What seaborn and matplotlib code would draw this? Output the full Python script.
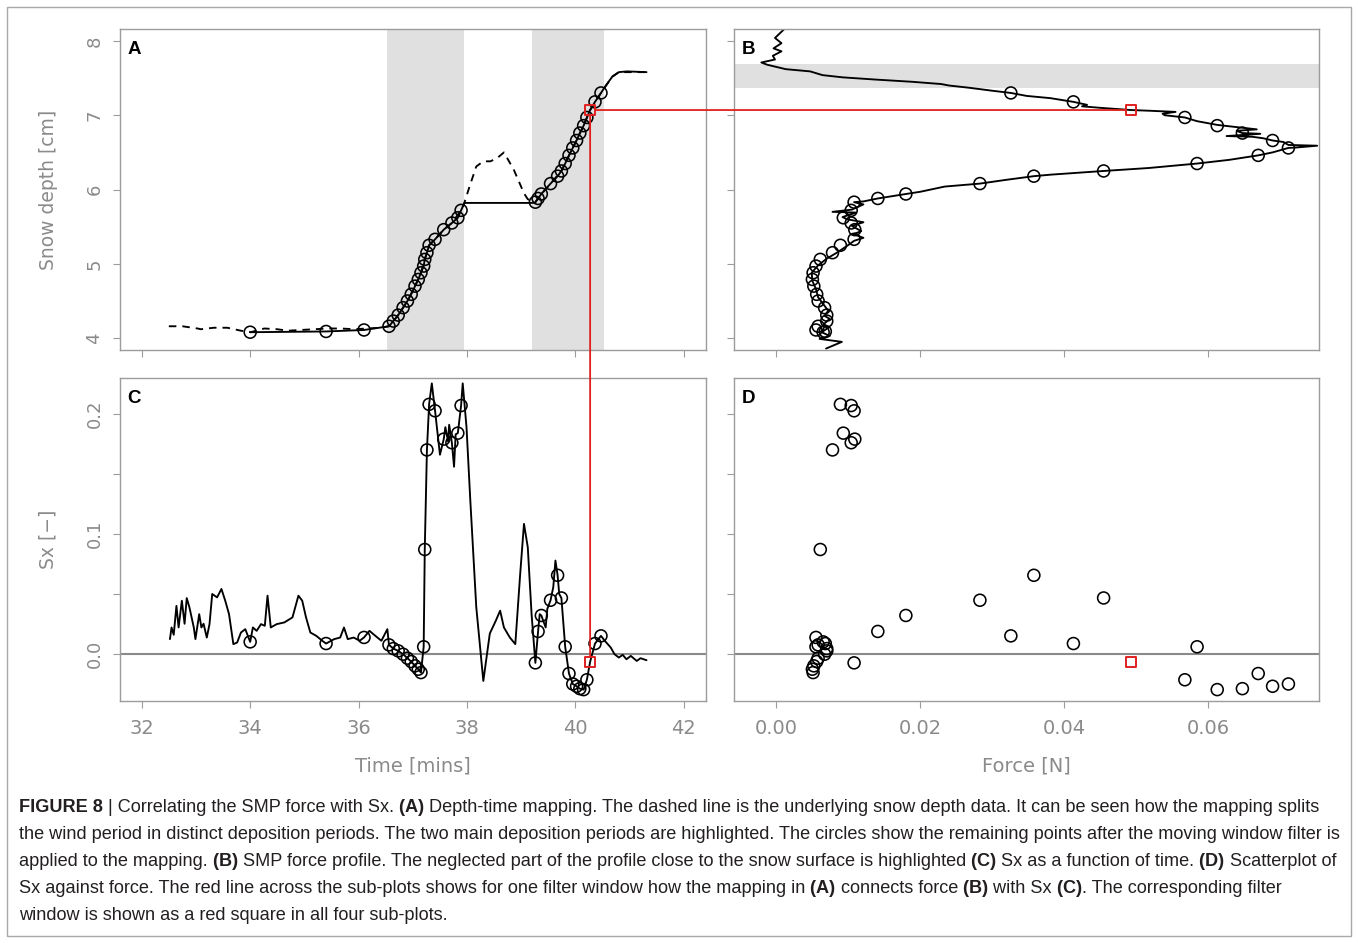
import matplotlib
matplotlib.use("Agg")
import matplotlib.pyplot as plt
import seaborn as sns
from matplotlib.patches import ConnectionPatch, Rectangle

# filter windows left after the moving window filter (one entry per window)
win_time = [34.00, 35.40, 36.10, 36.56, 36.64, 36.73, 36.82, 36.90, 36.97, 37.04,
            37.10, 37.15, 37.20, 37.22, 37.26, 37.30, 37.41, 37.57, 37.72, 37.83,
            37.89, 39.26, 39.31, 39.37, 39.54, 39.67, 39.74, 39.81, 39.88, 39.95,
            40.02, 40.08, 40.15, 40.21, 40.36, 40.47]
win_depth = [4.08, 4.09, 4.11, 4.16, 4.23, 4.31, 4.41, 4.50, 4.59, 4.70,
             4.79, 4.88, 4.97, 5.06, 5.15, 5.25, 5.33, 5.46, 5.55, 5.62,
             5.72, 5.83, 5.88, 5.94, 6.08, 6.18, 6.25, 6.35, 6.46, 6.56,
             6.66, 6.76, 6.86, 6.97, 7.18, 7.30]
win_force = [0.0065, 0.0068, 0.0055, 0.0058, 0.0070, 0.0070, 0.0067, 0.0058, 0.0056, 0.0052,
             0.0050, 0.0051, 0.0055, 0.0061, 0.0078, 0.0089, 0.0108, 0.0109, 0.0104, 0.0093,
             0.0104, 0.0108, 0.0141, 0.0180, 0.0283, 0.0358, 0.0455, 0.0585, 0.0670, 0.0712,
             0.0690, 0.0648, 0.0613, 0.0568, 0.0413, 0.0326]
win_sx = [0.0100, 0.0086, 0.0137, 0.0075, 0.0044, 0.0025, -0.0003, -0.0036, -0.0064, -0.0100,
          -0.0128, -0.0156, 0.0059, 0.0870, 0.1700, 0.2080, 0.2026, 0.1790, 0.1760, 0.1840,
          0.2070, -0.0075, 0.0187, 0.0320, 0.0447, 0.0655, 0.0466, 0.0059, -0.0164, -0.0251,
          -0.0270, -0.0290, -0.0298, -0.0216, 0.0086, 0.0150]

# the one highlighted window (red square)
sel_time, sel_depth, sel_force, sel_sx = 40.27, 7.07, 0.0493, -0.0066

# depth-time mapping (solid line in A)
map_time = [34.00, 35.40, 36.10, 36.56, 36.64, 36.73, 36.82, 36.90, 36.97, 37.04,
            37.10, 37.15, 37.20, 37.22, 37.26, 37.30, 37.41, 37.57, 37.72, 37.83,
            37.89, 37.95, 39.22, 39.26, 39.31, 39.37, 39.54, 39.67, 39.74, 39.81,
            39.88, 39.95, 40.02, 40.08, 40.15, 40.21, 40.27, 40.36, 40.47, 40.56,
            40.68, 40.80, 40.95, 41.31]
map_depth = [4.08, 4.09, 4.11, 4.16, 4.23, 4.31, 4.41, 4.50, 4.59, 4.70,
             4.79, 4.88, 4.97, 5.06, 5.15, 5.25, 5.33, 5.46, 5.55, 5.62,
             5.72, 5.82, 5.82, 5.83, 5.88, 5.94, 6.08, 6.18, 6.25, 6.35,
             6.46, 6.56, 6.66, 6.76, 6.86, 6.97, 7.07, 7.18, 7.30, 7.40,
             7.52, 7.58, 7.59, 7.58]

# underlying snow depth record (dashed line in A)
snow_time = [32.50, 32.75, 33.03, 33.09, 33.33, 33.58, 33.83, 34.01, 34.26, 34.50,
             34.69, 34.93, 35.18, 35.43, 35.67, 35.92, 36.16, 36.41, 36.56, 36.73,
             36.90, 37.04, 37.15, 37.22, 37.30, 37.41, 37.57, 37.72, 37.89, 37.95,
             38.05, 38.17, 38.30, 38.43, 38.55, 38.68, 38.86, 39.05, 39.12, 39.26,
             39.37, 39.54, 39.74, 39.95, 40.15, 40.27, 40.47, 40.68, 40.80, 41.31]
snow_depth = [4.16, 4.16, 4.13, 4.12, 4.14, 4.14, 4.10, 4.08, 4.13, 4.12,
              4.10, 4.11, 4.12, 4.13, 4.13, 4.12, 4.13, 4.14, 4.16, 4.31,
              4.50, 4.70, 4.88, 5.06, 5.25, 5.33, 5.46, 5.55, 5.72, 5.82,
              6.05, 6.31, 6.38, 6.38, 6.42, 6.50, 6.27, 5.95, 5.87, 5.83,
              5.94, 6.08, 6.25, 6.56, 6.86, 7.07, 7.30, 7.52, 7.58, 7.58]

# SMP force profile (B), surface to bottom
smp_depth = [8.17, 8.04, 7.97, 7.90, 7.86, 7.80, 7.75, 7.71, 7.68, 7.62,
             7.59, 7.54, 7.51, 7.48, 7.45, 7.42, 7.40, 7.37, 7.33, 7.30,
             7.26, 7.23, 7.18, 7.14, 7.12, 7.10, 7.07, 7.06, 7.045, 7.02,
             7.00, 6.97, 6.92, 6.87, 6.85, 6.81, 6.79, 6.76, 6.75, 6.72,
             6.71, 6.69, 6.66, 6.64, 6.60, 6.59, 6.565, 6.56, 6.50, 6.46,
             6.40, 6.35, 6.29, 6.25, 6.20, 6.18, 6.13, 6.08, 6.04, 5.97,
             5.94, 5.88, 5.84, 5.83, 5.80, 5.73, 5.70, 5.69, 5.63, 5.60,
             5.56, 5.51, 5.44, 5.40, 5.35, 5.31, 5.24, 5.15, 5.07, 4.98,
             4.88, 4.77, 4.66, 4.55, 4.46, 4.37, 4.30, 4.26, 4.19, 4.14,
             4.08, 4.03, 3.99, 3.95, 3.86]
smp_force = [0.0012, -0.0002, 0.0007, -0.0004, 0.0007, -0.0005, -0.0002, -0.0021, -0.0013, 0.0013,
             0.0047, 0.0064, 0.0092, 0.0138, 0.0189, 0.0229, 0.0240, 0.0268, 0.0300, 0.0326,
             0.0348, 0.0381, 0.0413, 0.0432, 0.0425, 0.0450, 0.0493, 0.0520, 0.0555, 0.0537,
             0.0540, 0.0568, 0.0585, 0.0613, 0.0631, 0.0668, 0.0640, 0.0648, 0.0673, 0.0626,
             0.0662, 0.0677, 0.0690, 0.0705, 0.0712, 0.0752, 0.0722, 0.0712, 0.0690, 0.0670,
             0.0630, 0.0585, 0.0518, 0.0455, 0.0381, 0.0358, 0.0319, 0.0283, 0.0234, 0.0200,
             0.0180, 0.0141, 0.0121, 0.0108, 0.0121, 0.0105, 0.0078, 0.0111, 0.0092, 0.0098,
             0.0121, 0.0105, 0.0118, 0.0107, 0.0121, 0.0108, 0.0098, 0.0084, 0.0070, 0.0058,
             0.0049, 0.0050, 0.0055, 0.0058, 0.0065, 0.0072, 0.0067, 0.0074, 0.0066, 0.0072,
             0.0063, 0.0074, 0.0060, 0.0091, 0.0069]

# Sx time series (C)
sx_time = [32.52, 32.55, 32.59, 32.64, 32.68, 32.74, 32.79, 32.83, 32.88, 32.96,
           32.99, 33.06, 33.10, 33.14, 33.20, 33.25, 33.30, 33.39, 33.47, 33.54,
           33.61, 33.69, 33.76, 33.83, 33.91, 34.00, 34.05, 34.12, 34.20, 34.27,
           34.32, 34.38, 34.49, 34.63, 34.78, 34.89, 34.96, 35.03, 35.11, 35.22,
           35.33, 35.40, 35.55, 35.66, 35.73, 35.80, 35.91, 36.02, 36.10, 36.20,
           36.31, 36.42, 36.53, 36.56, 36.64, 36.73, 36.82, 36.90, 36.97, 37.04,
           37.10, 37.15, 37.20, 37.22, 37.26, 37.30, 37.35, 37.41, 37.50, 37.57,
           37.60, 37.65, 37.67, 37.72, 37.76, 37.79, 37.83, 37.89, 37.92, 37.99,
           38.06, 38.17, 38.30, 38.42, 38.53, 38.61, 38.68, 38.79, 38.89, 38.98,
           39.05, 39.12, 39.19, 39.26, 39.31, 39.34, 39.37, 39.45, 39.48, 39.54,
           39.59, 39.63, 39.67, 39.70, 39.74, 39.81, 39.88, 39.95, 40.02, 40.08,
           40.15, 40.21, 40.27, 40.36, 40.47, 40.54, 40.65, 40.72, 40.80, 40.87,
           40.94, 41.02, 41.13, 41.20, 41.31]
sx_value = [0.0123, 0.0220, 0.0159, 0.0400, 0.0220, 0.0443, 0.0251, 0.0465, 0.0387, 0.0220,
            0.0123, 0.0331, 0.0220, 0.0251, 0.0136, 0.0248, 0.0499, 0.0471, 0.0541, 0.0443,
            0.0331, 0.0081, 0.0095, 0.0178, 0.0206, 0.0100, 0.0220, 0.0192, 0.0248, 0.0234,
            0.0485, 0.0220, 0.0248, 0.0262, 0.0304, 0.0485, 0.0443, 0.0304, 0.0178, 0.0150,
            0.0109, 0.0086, 0.0123, 0.0136, 0.0220, 0.0123, 0.0136, 0.0109, 0.0137, 0.0192,
            0.0150, 0.0109, 0.0206, 0.0075, 0.0044, 0.0025, -0.0003, -0.0036, -0.0064, -0.0100,
            -0.0128, -0.0156, 0.0059, 0.0870, 0.1700, 0.2080, 0.2255, 0.2026, 0.1660, 0.1790,
            0.1890, 0.1770, 0.1910, 0.1760, 0.1560, 0.1830, 0.1840, 0.2070, 0.2255, 0.1890,
            0.1280, 0.0390, -0.0226, 0.0170, 0.0276, 0.0360, 0.0220, 0.0136, 0.0081, 0.0666,
            0.1084, 0.0889, 0.0331, -0.0075, 0.0187, 0.0331, 0.0320, 0.0220, 0.0374, 0.0447,
            0.0555, 0.0778, 0.0655, 0.0499, 0.0466, 0.0059, -0.0164, -0.0251, -0.0270, -0.0290,
            -0.0298, -0.0216, -0.0066, 0.0086, 0.0150, 0.0109, 0.0053, -0.0003, -0.0031, -0.0008,
            -0.0045, -0.0017, -0.0059, -0.0036, -0.0053]

# highlighted periods
deposition_periods = [(36.53, 37.94), (39.19, 40.52)]
neglected_depth = (7.365, 7.687)

# axis ticks
time_ticks = [32, 34, 36, 38, 40, 42]
force_ticks = [0.00, 0.02, 0.04, 0.06]
force_labels = ["0.00", "0.02", "0.04", "0.06"]
depth_ticks = [4, 5, 6, 7, 8]
sx_ticks = [0.0, 0.05, 0.1, 0.15, 0.2]
sx_labels = ["0.0", "", "0.1", "", "0.2"]

caption_lines = [
    [("FIGURE 8", True), (" | Correlating the SMP force with Sx.", False), (" (A)", True),
     (" Depth-time mapping. The dashed line is the underlying snow depth data. It can be seen how the mapping splits", False)],
    [("the wind period in distinct deposition periods. The two main deposition periods are highlighted. "
      "The circles show the remaining points after the moving window filter is", False)],
    [("applied to the mapping.", False), (" (B)", True),
     (" SMP force profile. The neglected part of the profile close to the snow surface is highlighted", False),
     (" (C)", True), (" Sx as a function of time.", False), (" (D)", True), (" Scatterplot of", False)],
    [("Sx against force. The red line across the sub-plots shows for one filter window how the mapping in", False),
     (" (A)", True), (" connects force", False), (" (B)", True), (" with Sx", False), (" (C)", True),
     (". The corresponding filter", False)],
    [("window is shown as a red square in all four sub-plots.", False)],
]

GREY = "#8a8a8a"
FRAME = "#9c9c9c"
RED = "#e0201e"
SHADE = "#e0e0e0"

sns.set_style("ticks", {"axes.edgecolor": FRAME, "xtick.color": FRAME, "ytick.color": FRAME,
                        "axes.labelcolor": GREY, "text.color": GREY})
plt.rcParams["font.family"] = ["DejaVu Sans"]

fig = plt.figure(figsize=(13.58, 9.43), dpi=100)
axA = fig.add_axes([0.0884, 0.6288, 0.4312, 0.3404])
axB = fig.add_axes([0.5405, 0.6288, 0.4305, 0.3404])
axC = fig.add_axes([0.0884, 0.2570, 0.4312, 0.3422])
axD = fig.add_axes([0.5405, 0.2570, 0.4305, 0.3422])

line_kw = dict(color="black", lw=1.35, sort=False, estimator=None)
circ_kw = dict(s=74, facecolor="none", edgecolor="black", linewidth=1.15, zorder=4)
sq_kw = dict(marker="s", s=52, facecolor="none", edgecolor=RED, linewidth=1.4, zorder=5)

# A: depth-time mapping
for lo, hi in deposition_periods:
    axA.axvspan(lo, hi, color=SHADE, lw=0, zorder=0)
sns.lineplot(x=snow_time, y=snow_depth, ax=axA, linestyle=(0, (4.0, 3.2)), **line_kw)
sns.lineplot(x=map_time, y=map_depth, ax=axA, **line_kw)
sns.scatterplot(x=win_time, y=win_depth, ax=axA, **circ_kw)
sns.scatterplot(x=[sel_time], y=[sel_depth], ax=axA, **sq_kw)

# B: force profile
axB.axhspan(*neglected_depth, color=SHADE, lw=0, zorder=0)
sns.lineplot(x=smp_force, y=smp_depth, ax=axB, orient="y", **line_kw)
sns.scatterplot(x=win_force, y=win_depth, ax=axB, **circ_kw)
sns.scatterplot(x=[sel_force], y=[sel_depth], ax=axB, **sq_kw)

# C: Sx over time
axC.axhline(0, color=GREY, lw=1.5, zorder=1)
sns.lineplot(x=sx_time, y=sx_value, ax=axC, **line_kw)
sns.scatterplot(x=win_time, y=win_sx, ax=axC, **circ_kw)
sns.scatterplot(x=[sel_time], y=[sel_sx], ax=axC, **sq_kw)

# D: Sx vs force
axD.axhline(0, color=GREY, lw=1.5, zorder=1)
sns.scatterplot(x=win_force, y=win_sx, ax=axD, **circ_kw)
sns.scatterplot(x=[sel_force], y=[sel_sx], ax=axD, **sq_kw)

for ax in (axA, axC):
    ax.set_xlim(31.6, 42.4)
    ax.set_xticks(time_ticks)
for ax in (axB, axD):
    ax.set_xlim(-0.0059, 0.0754)
    ax.set_xticks(force_ticks)
for ax in (axA, axB):
    ax.set_ylim(3.84, 8.16)
    ax.set_yticks(depth_ticks)
for ax in (axC, axD):
    ax.set_ylim(-0.039, 0.230)
    ax.set_yticks(sx_ticks)

axD.set_xticklabels(force_labels)
axC.set_yticklabels(sx_labels)
axA.tick_params(labelbottom=False)
axB.tick_params(labelbottom=False, labelleft=False)
axD.tick_params(labelleft=False)

for ax, letter in zip((axA, axB, axC, axD), "ABCD"):
    for side in ax.spines.values():
        side.set_visible(True)
        side.set_color(FRAME)
        side.set_linewidth(1.0)
    ax.tick_params(axis="both", length=5, width=0.8, color=FRAME, labelcolor=GREY)
    ax.tick_params(axis="x", labelsize=14, pad=8)
    ax.tick_params(axis="y", labelsize=13, pad=7, labelrotation=90)
    for lab in ax.get_yticklabels():
        lab.set_va("center")
    ax.set_xlabel("")
    ax.set_ylabel("")
    ax.text(0.013, 0.962, letter, transform=ax.transAxes, ha="left", va="top",
            fontsize=13.5, fontweight="bold", color="black", family=["Liberation Sans", "DejaVu Sans"])

axC.set_xlabel("Time [mins]", fontsize=14, color=GREY, labelpad=13.5)
axD.set_xlabel("Force [N]", fontsize=14, color=GREY, labelpad=13.5)
axA.set_ylabel("Snow depth [cm]", fontsize=13.5, color=GREY, labelpad=20)
axC.set_ylabel("Sx [\u2212]", fontsize=13.5, color=GREY, labelpad=20)

# red line linking the highlighted window across the panels
link_kw = dict(color=RED, lw=1.3, shrinkA=3.6, shrinkB=3.6, zorder=6)
fig.add_artist(ConnectionPatch((sel_time, sel_depth), (sel_force, sel_depth), "data", "data",
                               axesA=axA, axesB=axB, **link_kw))
fig.add_artist(ConnectionPatch((sel_time, sel_depth), (sel_time, sel_sx), "data", "data",
                               axesA=axA, axesB=axC, **link_kw))

# outer frame
fig.add_artist(Rectangle((7 / 1358, 7 / 943), 1344 / 1358, 929 / 943, transform=fig.transFigure,
                         fill=False, ec="#a8a8a8", lw=1.0))

# caption with bold runs
cap_font = ["Liberation Sans", "DejaVu Sans"]
baselines = [0.1389, 0.1103, 0.0817, 0.0530, 0.0244]
for parts, yb in zip(caption_lines, baselines):
    prev = None
    for txt, bold in parts:
        kw = dict(fontsize=13.1, color="#231f20", family=cap_font,
                  fontweight="bold" if bold else "normal", va="baseline", ha="left")
        if prev is None:
            prev = fig.text(0.014, yb, txt, **kw)
        else:
            prev = axA.annotate(txt, xy=(1, yb), xycoords=(prev, "figure fraction"),
                                annotation_clip=False, **kw)

fig.savefig("out.png", dpi=100)
